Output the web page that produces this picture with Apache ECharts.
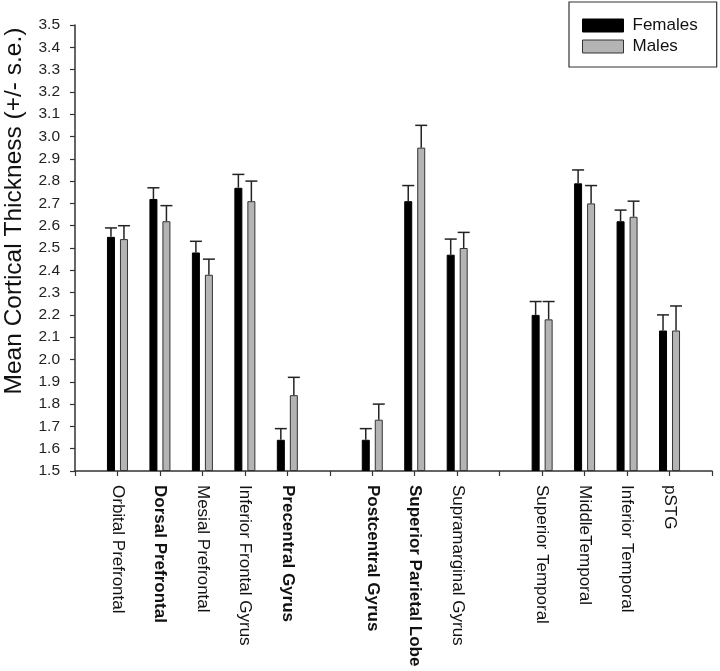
<!DOCTYPE html>
<html>
<head>
<meta charset="utf-8">
<script src="https://cdn.jsdelivr.net/npm/echarts@6/dist/echarts.min.js"></script>
<style>html,body{margin:0;padding:0;background:#fff}#c{width:720px;height:671px}</style>
</head>
<body>
<div id="c"></div>
<script>
// ---- data ----
const frontalRegions = ['Orbital Prefrontal', 'Dorsal Prefrontal', 'Mesial Prefrontal', 'Inferior Frontal Gyrus', 'Precentral Gyrus'];
const parietalRegions = ['Postcentral Gyrus', 'Superior Parietal Lobe', 'Supramarginal Gyrus'];
const temporalRegions = ['Superior Temporal', 'MiddleTemporal', 'Inferior Temporal', 'pSTG'];
const boldRegions = ['Dorsal Prefrontal', 'Precentral Gyrus', 'Postcentral Gyrus', 'Superior Parietal Lobe'];

const femaleMean = [2.55, 2.72, 2.48, 2.77, 1.64, 1.64, 2.71, 2.47, 2.20, 2.79, 2.62, 2.13];
const femaleSE   = [0.04, 0.05, 0.05, 0.06, 0.05, 0.05, 0.07, 0.07, 0.06, 0.06, 0.05, 0.07];
const maleMean   = [2.54, 2.62, 2.38, 2.71, 1.84, 1.73, 2.95, 2.50, 2.18, 2.70, 2.64, 2.13];
const maleSE     = [0.06, 0.07, 0.07, 0.09, 0.08, 0.07, 0.10, 0.07, 0.08, 0.08, 0.07, 0.11];

const yTicksMin = 1.5, yTicksMax = 3.5, yTickStep = 0.1;
const yTitle = 'Mean Cortical Thickness (+/- s.e.)';

// ---- build category slots (empty slot at start, gaps between groups, empty slot at end) ----
const groups = [frontalRegions, parietalRegions, temporalRegions];
const slots = [''];
const regionSlot = [];
groups.forEach((g, gi) => {
  g.forEach(r => { regionSlot.push(slots.length); slots.push(r); });
  slots.push('');
});

function padded(vals) {
  const arr = slots.map(() => null);
  vals.forEach((v, i) => { arr[regionSlot[i]] = v; });
  return arr;
}

const FONT = "'Liberation Sans', Arial, Helvetica, sans-serif";
const BAR_W = 8, GAP_PX = 5, CAP_W = 12;
const OFFSET = (BAR_W + GAP_PX) / 2;

function errSeries(name, means, ses, side) {
  return {
    type: 'custom',
    name: name + ' err',
    z: 5,
    silent: true,
    data: means.map((m, i) => [regionSlot[i], m, ses[i]]),
    encode: { x: 0, y: 1 },
    renderItem: function (params, api) {
      const idx = api.value(0), m = api.value(1), s = api.value(2);
      const p0 = api.coord([idx, m]);
      const p1 = api.coord([idx, m + s]);
      const x = p0[0] + side * OFFSET;
      const st = { stroke: '#222', lineWidth: 1.5 };
      return {
        type: 'group',
        children: [
          { type: 'line', shape: { x1: x, y1: p0[1], x2: x, y2: p1[1] }, style: st },
          { type: 'line', shape: { x1: x - CAP_W / 2, y1: p1[1], x2: x + CAP_W / 2, y2: p1[1] }, style: st }
        ]
      };
    }
  };
}

const chart = echarts.init(document.getElementById('c'), null, { renderer: 'canvas' });
chart.setOption({
  animation: false,
  backgroundColor: '#fff',
  textStyle: { fontFamily: FONT },
  grid: { left: 75, right: 8, top: 25, bottom: 200, containLabel: false },
  legend: {
    left: 569, top: 2,
    orient: 'vertical',
    itemWidth: 41, itemHeight: 13, itemGap: 4,
    padding: [15, 19, 12, 13],
    borderColor: '#333', borderWidth: 1.2,
    backgroundColor: '#fff',
    textStyle: { fontSize: 17, color: '#111', fontFamily: FONT, padding: [0, 0, 0, 4] },
    data: [
      { name: 'Females', icon: 'rect', itemStyle: { color: '#000', borderColor: '#000', borderWidth: 1 } },
      { name: 'Males', icon: 'rect', itemStyle: { color: '#b4b4b4', borderColor: '#333', borderWidth: 1 } }
    ]
  },
  xAxis: {
    type: 'category',
    boundaryGap: false,
    data: slots.map(s => boldRegions.includes(s) ? { value: s, textStyle: { fontWeight: 'bold' } } : s),
    axisLine: { lineStyle: { color: '#333', width: 1.5 } },
    axisTick: { show: true, interval: 0, length: 5, inside: false, lineStyle: { color: '#333', width: 1.2 } },
    axisLabel: { interval: 0, rotate: -90, fontSize: 17, color: '#111', margin: 14, fontFamily: FONT },
    splitLine: { show: false }
  },
  yAxis: {
    type: 'value',
    min: yTicksMin, max: yTicksMax, interval: yTickStep,
    startValue: yTicksMin,
    axisLine: { show: true, lineStyle: { color: '#333', width: 1.5 } },
    axisTick: { show: true, length: 5, inside: false, lineStyle: { color: '#333', width: 1.2 } },
    axisLabel: { fontSize: 15.5, color: '#222', margin: 15, fontFamily: FONT, formatter: v => v.toFixed(1) },
    splitLine: { show: false }
  },
  graphic: [{
    type: 'text',
    x: 14, y: 211,
    rotation: Math.PI / 2,
    style: { text: yTitle, fontSize: 24.5, fontFamily: FONT, fill: '#111', align: 'center', verticalAlign: 'middle' }
  }],
  series: [
    {
      name: 'Females', type: 'bar', barWidth: BAR_W, barGap: (GAP_PX / BAR_W * 100) + '%',
      clip: true,
      itemStyle: { color: '#000', borderColor: '#000', borderWidth: 1 },
      data: padded(femaleMean)
    },
    {
      name: 'Males', type: 'bar', barWidth: BAR_W,
      clip: true,
      itemStyle: { color: '#b4b4b4', borderColor: '#333', borderWidth: 1 },
      data: padded(maleMean)
    },
    errSeries('Females', femaleMean, femaleSE, -1),
    errSeries('Males', maleMean, maleSE, 1)
  ]
});
</script>
</body>
</html>
